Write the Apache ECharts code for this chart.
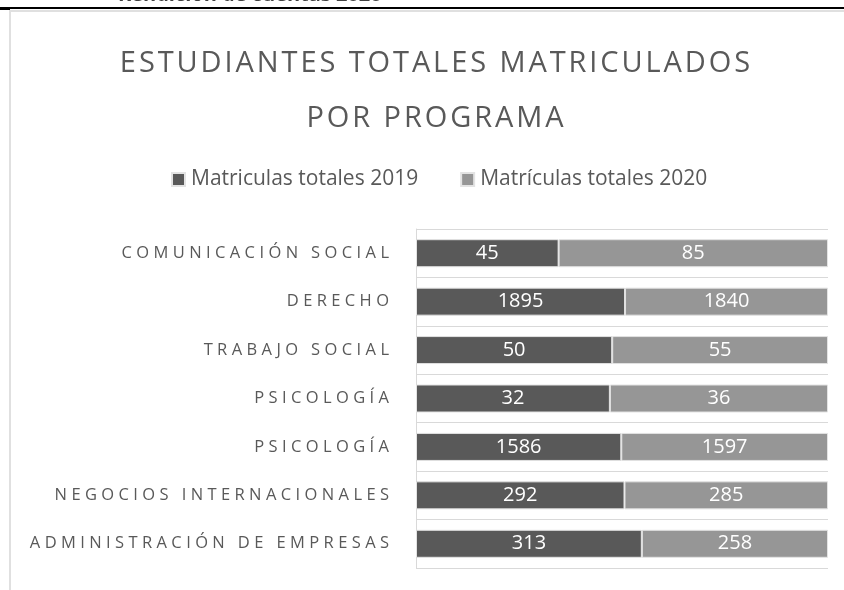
<!DOCTYPE html>
<html>
<head>
<meta charset="utf-8">
<script src="https://cdn.jsdelivr.net/npm/echarts@6/dist/echarts.min.js"></script>
<style>
  html, body { margin: 0; padding: 0; background: #fff; }
  #chart_container { width: 844px; height: 590px; }
</style>
</head>
<body>
<div id="chart_container"></div>
<script>
// 100% stacked bars, enrolled students per programme

var programas = [
    'COMUNICACIÓN SOCIAL',
    'DERECHO',
    'TRABAJO SOCIAL',
    'PSICOLOGÍA',
    'PSICOLOGÍA ',
    'NEGOCIOS INTERNACIONALES',
    'ADMINISTRACIÓN DE EMPRESAS'
];
var totales2019 = [45, 1895, 50, 32, 1586, 292, 313];
var totales2020 = [85, 1840, 55, 36, 1597, 285, 258];

var serie2019 = 'Matriculas totales 2019';
var serie2020 = 'Matrículas totales 2020';

// spread letters like the original
function spaced(txt, gap) {
    return txt.trim().split('').join(gap);
}

function pct(arr, i) {
    return arr[i] / (totales2019[i] + totales2020[i]) * 100;
}

var d2019 = totales2019.map(function (v, i) { return { value: pct(totales2019, i), raw: v }; });
var d2020 = totales2020.map(function (v, i) { return { value: pct(totales2020, i), raw: v }; });

var font = "'Open Sans', 'Noto Sans', sans-serif";
var txtColor = '#595959';

var chartDom = document.getElementById('chart_container');
var myChart = echarts.init(chartDom);

var barLabel = {
    show: true,
    position: 'inside',
    color: '#fff',
    fontFamily: font,
    fontSize: 20,
    formatter: function (p) { return p.data.raw; }
};

var opt = {
    animation: false,
    title: {
        text: spaced('ESTUDIANTES TOTALES MATRICULADOS', '\u200A') + '\n' + spaced('POR PROGRAMA', '\u200A'),
        left: 430,
        textAlign: 'center',
        top: 31,
        textStyle: {
            fontFamily: font,
            fontWeight: 'normal',
            fontSize: 29,
            lineHeight: 55,
            color: txtColor
        }
    },
    legend: {
        top: 164,
        left: 166,
        itemWidth: 13,
        itemHeight: 13,
        itemGap: 42,
        icon: 'rect',
        textStyle: { fontFamily: font, fontSize: 21, color: txtColor, padding: [0, 0, 0, 1] },
        data: [serie2019, serie2020]
    },
    grid: {
        left: 416,
        top: 229,
        width: 412,
        height: 339
    },
    xAxis: {
        type: 'value',
        min: 0,
        max: 100,
        show: false
    },
    yAxis: {
        type: 'category',
        inverse: true,
        data: programas,
        axisTick: { show: false },
        axisLine: { show: true, lineStyle: { color: '#d9d9d9' } },
        splitLine: { show: true, lineStyle: { color: '#d9d9d9' } },
        axisLabel: {
            margin: 27,
            fontFamily: font,
            fontSize: 16.5,
            color: txtColor,
            formatter: function (v) { return spaced(v, '\u2009\u200A'); }
        }
    },
    series: [
        {
            name: serie2019,
            type: 'bar',
            stack: 'total',
            barWidth: 28,
            itemStyle: { color: '#595959', borderColor: '#e3e3e3', borderWidth: 1 },
            label: barLabel,
            data: d2019
        },
        {
            name: serie2020,
            type: 'bar',
            stack: 'total',
            barWidth: 28,
            itemStyle: { color: '#969696', borderColor: '#e3e3e3', borderWidth: 1 },
            label: barLabel,
            data: d2020
        }
    ],
    graphic: [
        // cropped page header above the chart
        {
            type: 'text',
            x: 118,
            y: -15,
            style: {
                text: 'Rendición de cuentas 2020',
                fontFamily: font,
                fontWeight: 'bold',
                fontSize: 20,
                fill: '#404040'
            }
        },
        { type: 'rect', shape: { x: 0, y: 7, width: 844, height: 2 }, style: { fill: '#000' } },
        { type: 'rect', shape: { x: 0, y: 9, width: 10, height: 1 }, style: { fill: '#000' } },
        { type: 'rect', shape: { x: 9, y: 10, width: 835, height: 2 }, style: { fill: '#e0e0e0' } },
        { type: 'rect', shape: { x: 9, y: 10, width: 2, height: 580 }, style: { fill: '#e0e0e0' } }
    ]
};

myChart.setOption(opt);
</script>
</body>
</html>
